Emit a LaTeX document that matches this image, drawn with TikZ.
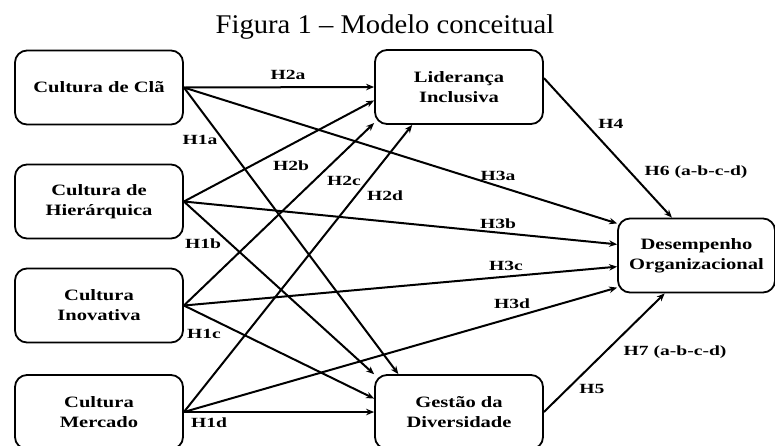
\documentclass[tikz,border=0pt]{standalone}
\usepackage{fontspec}
\setmainfont{Liberation Serif}
\newfontfamily\boxfont[FakeStretch=1.3]{Liberation Serif}
\newfontfamily\hypfont[FakeStretch=1.4]{Liberation Serif}
\newfontfamily\titlefont[FakeStretch=1.06]{Liberation Serif}
\usetikzlibrary{arrows.meta}

\begin{document}
\begin{tikzpicture}[x=1pt, y=-1pt,
    construto/.style={draw, line width=1.8pt, rounded corners=12pt,
        minimum width=168pt, minimum height=74pt, inner sep=0pt, align=center,
        font=\boxfont\bfseries\fontsize{15.8}{20}\selectfont},
    hipotese/.style={anchor=base, inner sep=0pt,
        font=\hypfont\bfseries\fontsize{14}{16}\selectfont},
    seta/.style={line width=2pt, -{Stealth[length=8pt, width=6.5pt]}}]
    \useasboundingbox (0,0) rectangle (775,445);

    % タイトル
    \node[anchor=base, inner sep=0pt, font=\titlefont\fontsize{27}{30}\selectfont]
        (titulo) at (385,33) {Figura 1 – Modelo conceitual};

    % 箱の描画
    \node[construto] (cla) at (99,87.5) {Cultura de Clã};
    \node[construto] (hier) at (99,201.5) {Cultura de\\Hierárquica};
    \node[construto] (inov) at (99,305.5) {Cultura\\Inovativa};
    \node[construto] (merc) at (99,412) {Cultura\\Mercado};
    \node[construto] (lid) at (459,87) {Liderança\\Inclusiva};
    \node[construto] (gest) at (459,412) {Gestão da\\Diversidade};
    \node[construto, minimum width=157pt] (des) at (696.5,255.5) {Desempenho\\Organizacional};

    % 矢印の描画
    \draw[seta] (cla.east) -- (lid.west);
    \draw[seta] (hier.east) -- (lid.189);
    \draw[seta] (inov.east) -- (lid.203);
    \draw[seta] (merc.east) -- (lid.219);

    \draw[seta] (cla.east) -- (gest.148);
    \draw[seta] (hier.east) -- (gest.156);
    \draw[seta] (inov.east) -- (gest.171);
    \draw[seta] (merc.east) -- (gest.west);

    \draw[seta] (cla.east) -- (des.158);
    \draw[seta] (hier.east) -- (des.172);
    \draw[seta] (inov.east) -- (des.188);
    \draw[seta] (merc.east) -- (des.202);

    \draw[seta] (lid.6) -- (des.123);
    \draw[seta] (gest.east) -- (des.230);

    % ラベルの描画
    \node[hipotese] (h2a) at (288,79) {H2a};
    \node[hipotese] (h1a) at (200,144) {H1a};
    \node[hipotese] (h2b) at (291,170) {H2b};
    \node[hipotese] (h2c) at (344,185) {H2c};
    \node[hipotese] (h2d) at (385,200) {H2d};
    \node[hipotese] (h3a) at (498,180) {H3a};
    \node[hipotese] (h4) at (611,128) {H4};
    \node[hipotese] (h6) at (696,175) {H6 (a-b-c-d)};
    \node[hipotese] (h3b) at (498,228) {H3b};
    \node[hipotese] (h1b) at (203,248) {H1b};
    \node[hipotese] (h3c) at (506,270) {H3c};
    \node[hipotese] (h1c) at (204,338) {H1c};
    \node[hipotese] (h3d) at (512,308) {H3d};
    \node[hipotese] (h1d) at (209,427) {H1d};
    \node[hipotese] (h7) at (675,355) {H7 (a-b-c-d)};
    \node[hipotese] (h5) at (592,393) {H5};

\end{tikzpicture}
\end{document}
